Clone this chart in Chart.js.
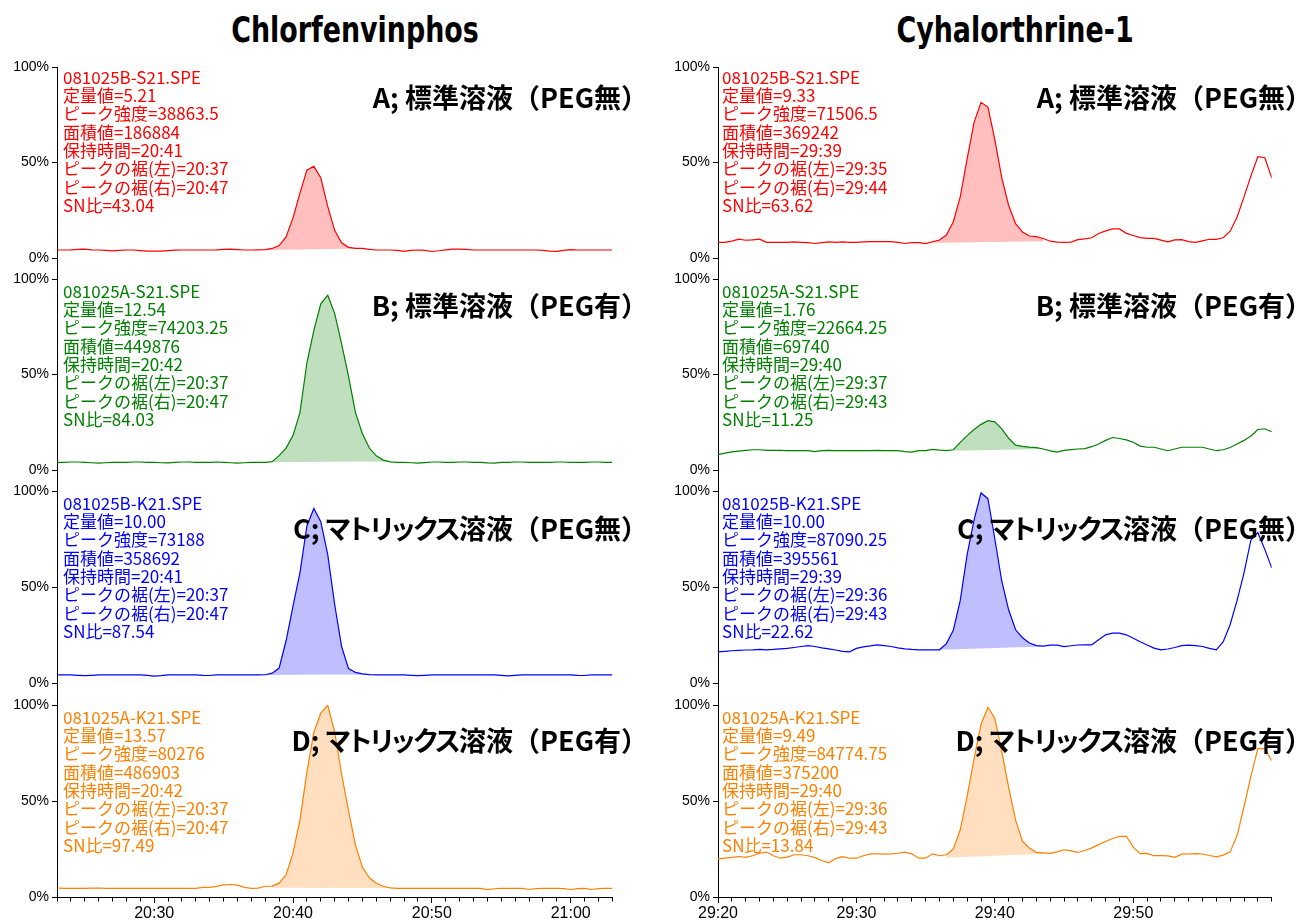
<!DOCTYPE html>
<html>
<head>
<meta charset="utf-8">
<script src="https://cdn.jsdelivr.net/npm/chart.js@4.4.1/dist/chart.umd.min.js"></script>
<style>
  body { margin: 0; background: #fff; }
  #page { position: relative; width: 1308px; height: 924px; overflow: hidden; background: #fff; }
  canvas { position: absolute; }
  .title { position: absolute; top: 12px; font: bold 36px "DejaVu Sans Condensed", "DejaVu Sans", sans-serif;
           line-height: 36px; white-space: nowrap; transform: translateX(-50%) scaleX(0.83); color: #000; }
  .plabel { position: absolute; font: bold 27px "Noto Sans CJK JP", sans-serif; line-height: 28px;
            white-space: nowrap; color: #000; z-index: 2; }
  .plabel .kana { font-feature-settings: "palt"; letter-spacing: -1.5px; }
  .note { position: absolute; font: 17px "Noto Sans CJK JP", sans-serif; line-height: 18.3px;
          white-space: pre; z-index: 2; }
</style>
</head>
<body>
<div id="page"></div>
<script>
// retention time offsets in seconds from the left edge of each column
const offsets = [
  0, 0.5, 1, 1.5, 2, 2.5, 3, 3.5, 4, 4.5, 5, 5.5, 6, 6.5, 7, 7.5, 8, 8.5, 9, 9.5,
  10, 10.5, 11, 11.5, 12, 12.5, 13, 13.5, 14, 14.5, 15, 15.5, 16, 16.5, 17, 17.5, 18, 18.5, 19, 19.5,
  20, 20.5, 21, 21.5, 22, 22.5, 23, 23.5, 24, 24.5, 25, 25.5, 26, 26.5, 27, 27.5, 28, 28.5, 29, 29.5,
  30, 30.5, 31, 31.5, 32, 32.5, 33, 33.5, 34, 34.5, 35, 35.5, 36, 36.5, 37, 37.5, 38, 38.5, 39, 39.5, 40
];

// Chlorfenvinphos (starts 20:23)
const chlorA = [
  4.2, 4.2, 4.3, 4.5, 4.6, 4.3, 4.2, 4.0, 3.7, 4.0,
  4.2, 4.2, 3.9, 3.6, 3.6, 3.6, 3.9, 4.1, 4.2, 4.2,
  4.2, 4.2, 4.2, 4.3, 4.5, 4.6, 4.4, 4.2, 4.2, 4.3,
  4.4, 5.0, 6.5, 11, 21, 34, 46, 48, 42, 27,
  14.5, 8, 5.6, 5.0, 5.0, 4.5, 4.2, 4.2, 4.2, 4.0,
  3.5, 4.0, 4.2, 4.0, 3.4, 3.8, 4.3, 4.6, 4.6, 4.5,
  4.2, 4.2, 4.2, 4.2, 4.2, 4.2, 4.2, 4.2, 4.2, 4.2,
  4.0, 3.6, 3.5, 4.0, 4.4, 4.2, 4.2, 4.2, 4.2, 4.2,
  4.2
];
const chlorB = [
  4.0, 4.0, 4.2, 4.2, 4.0, 3.8, 3.6, 3.8, 4.0, 4.0,
  4.0, 4.2, 4.2, 4.0, 4.0, 3.8, 3.7, 4.0, 4.2, 4.2,
  4.0, 4.0, 4.0, 4.2, 4.0, 3.8, 3.6, 3.8, 4.0, 4.0,
  4.0, 4.4, 7.5, 11.5, 18, 30, 56, 73, 87, 91.5,
  82, 66, 49, 30, 19, 11.5, 7.4, 5.2, 4.3, 4.0,
  4.0, 3.8, 3.6, 3.9, 4.2, 4.2, 4.0, 4.0, 4.2, 4.2,
  4.0, 4.0, 3.7, 3.6, 4.0, 4.0, 4.2, 4.2, 4.0, 4.0,
  4.0, 4.0, 4.2, 4.2, 4.0, 4.0, 4.0, 4.2, 4.2, 4.0,
  4.0
];
const chlorC = [
  4.2, 4.2, 4.2, 4.0, 3.8, 4.0, 4.2, 4.2, 4.2, 4.2,
  4.2, 4.2, 4.2, 4.0, 3.6, 3.8, 4.2, 4.2, 4.2, 4.2,
  4.2, 4.0, 3.9, 4.2, 4.2, 4.2, 4.2, 4.2, 4.2, 4.2,
  4.3, 5.1, 7.8, 22, 40, 57.4, 81.8, 90.9, 84, 67,
  41, 19, 7.5, 5.5, 4.8, 4.4, 4.2, 4.2, 4.2, 4.2,
  4.2, 4.0, 3.8, 4.0, 4.2, 4.2, 4.2, 4.2, 4.2, 4.2,
  4.2, 4.2, 4.2, 4.2, 4.0, 3.7, 4.0, 4.2, 4.2, 4.2,
  4.2, 4.2, 4.2, 4.2, 4.2, 4.0, 3.9, 4.2, 4.2, 4.2,
  4.2
];
const chlorD = [
  4.7, 4.5, 4.5, 4.5, 4.5, 4.6, 4.7, 4.5, 4.5, 4.5,
  4.5, 4.5, 4.5, 4.5, 4.5, 4.5, 4.5, 4.5, 4.5, 4.5,
  4.5, 5.0, 5.0, 5.5, 6.3, 6.5, 6.2, 5.0, 4.5, 4.6,
  5.6, 5.7, 7.2, 11.5, 23, 40, 65, 85.7, 95.8, 100,
  86, 64, 44.8, 27, 15.5, 10, 7.2, 5.6, 4.8, 4.5,
  4.5, 4.5, 4.5, 4.5, 4.5, 4.5, 4.5, 4.5, 4.5, 4.5,
  4.5, 4.5, 3.8, 4.3, 4.5, 4.5, 4.5, 4.5, 3.9, 4.4,
  4.5, 4.5, 4.5, 4.4, 3.9, 4.4, 4.5, 3.9, 4.4, 4.5,
  4.5
];

// Cyhalorthrine-1 (starts 29:20)
const cyhaA = [
  8.2, 8.2, 8.8, 9.9, 9.3, 9.5, 9.9, 8.2, 8.2, 8.2,
  8.2, 8.4, 8.2, 8.0, 7.6, 8.0, 8.4, 8.2, 8.4, 8.2,
  8.2, 8.4, 8.6, 8.6, 8.6, 8.6, 8.2, 7.6, 8.0, 8.0,
  7.5, 8.5, 9.4, 12, 19, 32, 52, 71, 81.5, 79,
  62, 42, 27.5, 18, 13.6, 11.5, 11.2, 10.2, 8.8, 8.3,
  8.2, 8.3, 9.6, 10.0, 10.6, 12.8, 14.2, 15.2, 15.2, 12.9,
  11.8, 10.7, 10.3, 10.3, 9.4, 8.5, 9.5, 9.6, 8.6, 8.2,
  9.0, 9.8, 9.8, 10.6, 14, 21.5, 32, 43, 53, 52.5,
  42
];
const cyhaB = [
  8.0, 8.8, 9.5, 9.9, 10.3, 10.6, 10.6, 10.3, 10.3, 10.3,
  10.1, 10.1, 10.1, 10.1, 9.6, 10.1, 10.3, 10.1, 10.1, 10.1,
  10.1, 10.1, 10.1, 10.3, 10.1, 10.1, 10.1, 9.6, 9.4, 10.1,
  10.1, 10.8, 10.4, 10.1, 10.6, 14.5, 18, 21.2, 23.9, 25.8,
  25.2, 21.5, 16.6, 13, 12.4, 12, 11.7, 11, 10, 9.4,
  10.3, 10.7, 11, 11.2, 12.2, 13.6, 15.5, 17, 16.5, 15.8,
  14.5, 12.5, 11.9, 11.9, 11, 10.1, 11, 11.9, 11.9, 11.9,
  11.9, 11, 10.1, 10.6, 11.8, 13.6, 15.5, 17.8, 21.2, 21.6,
  20
];
const cyhaC = [
  16.2, 16.5, 16.8, 17, 17.2, 17.3, 17.5, 17.3, 17.5, 17.8,
  18, 18.5, 19, 19.5, 19, 18.3, 17.8, 17.2, 16.5, 16.2,
  18, 18.8, 19.3, 19.9, 19.5, 19, 18.3, 17.8, 17.5, 17.3,
  17.3, 17.3, 17.3, 20.5, 27.5, 43, 67, 85, 99, 96,
  75, 53, 38, 27.7, 23.6, 20.8, 19.5, 19.2, 19.7, 19.7,
  19, 19.4, 19.8, 19.9, 19.9, 22.5, 25.1, 26, 26, 25.1,
  23.3, 21.5, 19.8, 18.2, 17.3, 17.7, 18.5, 19.5, 19.7, 19.5,
  19, 18, 17.3, 21.5, 30.5, 43, 57.4, 74.5, 78.3, 69.6,
  60
];
const cyhaD = [
  19.9, 20.2, 20.6, 21.1, 20.6, 21.5, 22.8, 23.4, 21.5, 20.2,
  20.8, 22, 22, 21.5, 20.5, 19, 17.8, 20, 21, 20.2,
  20.2, 21.5, 22.5, 22.5, 22.3, 22.5, 22.8, 23.4, 22.5, 20.2,
  20.2, 22.5, 21.5, 22, 25, 35, 52.5, 72, 90, 98.8,
  93, 75.8, 57, 40, 29, 25.5, 23.2, 23, 22.7, 23.5,
  24.6, 24, 23.2, 24.2, 25.6, 27.3, 28.9, 30.5, 31.6, 31.6,
  26, 22.6, 22.7, 21.5, 21.5, 21.4, 20.7, 22.3, 22.4, 22.6,
  22.4, 21.6, 20.9, 21.8, 23.5, 32, 47, 63, 77.3, 77.3,
  71
];

// integrated peak: [left foot, right foot] times and baseline heights
const chlorFeet = [[15, 22], [15.5, 24], [15, 22.5], [15.5, 24]];
const chlorBase = [[4.2, 5.0], [4.0, 4.6], [4.2, 4.6], [4.8, 5.0]];
const cyhaFeet = [[15, 23.5], [17, 23.5], [16, 23.5], [16.5, 23.5]];
const cyhaBase = [[7.8, 8.8], [10.1, 11.0], [17.3, 19.0], [20.5, 22.5]];

// axis ticks
const yTickValues = [0, 50, 100];
const chlorMajor = { 7: '20:30', 17: '20:40', 27: '20:50', 37: '21:00' };
const cyhaMajor = { 0: '29:20', 10: '29:30', 20: '29:40', 30: '29:50' };

const panelNames = ['A; 標準溶液（PEG無）', 'B; 標準溶液（PEG有）', 'C; マトリックス溶液（PEG無）', 'D; マトリックス溶液（PEG有）'];
const colors = ['#ff0000', '#008000', '#0000ff', '#ff8000'];
const fills = ['rgba(255,0,0,0.25)', 'rgba(0,128,0,0.25)', 'rgba(0,0,255,0.25)', 'rgba(255,128,0,0.25)'];

const chlorNotes = [
  ['081025B-S21.SPE', '定量値=5.21', 'ピーク強度=38863.5', '面積値=186884', '保持時間=20:41', 'ピークの裾(左)=20:37', 'ピークの裾(右)=20:47', 'SN比=43.04'],
  ['081025A-S21.SPE', '定量値=12.54', 'ピーク強度=74203.25', '面積値=449876', '保持時間=20:42', 'ピークの裾(左)=20:37', 'ピークの裾(右)=20:47', 'SN比=84.03'],
  ['081025B-K21.SPE', '定量値=10.00', 'ピーク強度=73188', '面積値=358692', '保持時間=20:41', 'ピークの裾(左)=20:37', 'ピークの裾(右)=20:47', 'SN比=87.54'],
  ['081025A-K21.SPE', '定量値=13.57', 'ピーク強度=80276', '面積値=486903', '保持時間=20:42', 'ピークの裾(左)=20:37', 'ピークの裾(右)=20:47', 'SN比=97.49']
];
const cyhaNotes = [
  ['081025B-S21.SPE', '定量値=9.33', 'ピーク強度=71506.5', '面積値=369242', '保持時間=29:39', 'ピークの裾(左)=29:35', 'ピークの裾(右)=29:44', 'SN比=63.62'],
  ['081025A-S21.SPE', '定量値=1.76', 'ピーク強度=22664.25', '面積値=69740', '保持時間=29:40', 'ピークの裾(左)=29:37', 'ピークの裾(右)=29:43', 'SN比=11.25'],
  ['081025B-K21.SPE', '定量値=10.00', 'ピーク強度=87090.25', '面積値=395561', '保持時間=29:39', 'ピークの裾(左)=29:36', 'ピークの裾(右)=29:43', 'SN比=22.62'],
  ['081025A-K21.SPE', '定量値=9.49', 'ピーク強度=84774.75', '面積値=375200', '保持時間=29:40', 'ピークの裾(左)=29:36', 'ピークの裾(右)=29:43', 'SN比=13.84']
];

// page layout (px)
const top100 = [67, 279, 491, 705];   // where 100% sits in each row
const zero = [258, 470, 683, 897];    // where 0% sits in each row
const labelMid = [97, 305, 528, 740];
const noteMid = [77, 291, 503, 717];

const columns = [
  { title: 'Chlorfenvinphos', titleX: 355, left: 0, width: 640, axisW: 57, padRight: 27.7, noteX: 63, labelRight: 648,
    major: chlorMajor, series: [chlorA, chlorB, chlorC, chlorD], feet: chlorFeet, base: chlorBase, notes: chlorNotes },
  { title: 'Cyhalorthrine-1', titleX: 1015, left: 660, width: 648, axisW: 58, padRight: 36.3, noteX: 722, labelRight: 1312,
    major: cyhaMajor, series: [cyhaA, cyhaB, cyhaC, cyhaD], feet: cyhaFeet, base: cyhaBase, notes: cyhaNotes }
];

Chart.defaults.font.family = '"Liberation Sans", Arial, sans-serif';
Chart.defaults.color = '#000';

const page = document.getElementById('page');

function makePanel(col, row) {
  const vals = col.series[row];
  const [t0, t1] = col.feet[row];
  const [b0, b1] = col.base[row];
  const showX = row === 3;
  const top = top100[row] - 10;
  const bottom = showX ? 924 : top100[row + 1];
  const yMin = showX ? 0 : -(top100[row + 1] - zero[row]) / (zero[row] - top100[row]) * 100;

  const canvas = document.createElement('canvas');
  canvas.width = col.width;
  canvas.height = bottom - top;
  canvas.style.left = col.left + 'px';
  canvas.style.top = top + 'px';
  canvas.style.width = col.width + 'px';
  canvas.style.height = (bottom - top) + 'px';
  page.appendChild(canvas);

  const line = offsets.map((t, i) => ({ x: t, y: vals[i] }));
  const peak = line.filter(p => p.x >= t0 && p.x <= t1);

  new Chart(canvas.getContext('2d'), {
    type: 'line',
    data: {
      datasets: [
        { data: [{ x: t0, y: b0 }, { x: t1, y: b1 }], borderColor: 'rgba(0,0,0,0)', borderWidth: 0, pointRadius: 0, fill: false },
        { data: peak, borderColor: 'rgba(0,0,0,0)', borderWidth: 0, pointRadius: 0, backgroundColor: fills[row], fill: '-1' },
        { data: line, borderColor: colors[row], borderWidth: 1.2, pointRadius: 0, fill: false, tension: 0 }
      ]
    },
    options: {
      responsive: false,
      maintainAspectRatio: false,
      animation: false,
      events: [],
      layout: { padding: { top: 10, right: col.padRight, left: 0, bottom: 0 } },
      plugins: { legend: { display: false }, tooltip: { enabled: false } },
      scales: {
        x: {
          type: 'linear', min: 0, max: 40, display: showX, position: 'bottom',
          afterBuildTicks: s => {
            const ticks = [];
            for (let v = 0; v <= 40; v++) ticks.push({ value: v });
            s.ticks = ticks;
          },
          afterFit: s => {
            if (showX) s.height = 27;
            s.paddingLeft = 0;
            s.paddingRight = 0;
          },
          ticks: {
            autoSkip: false, maxRotation: 0, padding: 1, color: '#000',
            font: { size: 16 },
            callback: v => col.major[v] || ''
          },
          grid: {
            drawOnChartArea: false, tickLength: 6, color: '#000',
            tickBorderDash: ctx => (ctx.tick && col.major[ctx.tick.value] !== undefined) ? [] : [3.5, 40]
          },
          border: { color: '#000', width: 1 }
        },
        y: {
          min: yMin, max: 100,
          afterBuildTicks: s => { s.ticks = yTickValues.map(v => ({ value: v })); },
          afterFit: s => {
            s.width = col.axisW;
            // let the axis run to the panel edges; labels may overhang
            s.paddingTop = 0;
            s.paddingBottom = 0;
          },
          ticks: { padding: 3, color: '#000', font: { size: 14 }, callback: v => v + '%' },
          grid: { drawOnChartArea: false, tickLength: 5, color: '#000' },
          border: { color: '#000', width: 1 }
        }
      }
    }
  });

  // katakana runs get proportional widths, the rest stays full width
  const label = document.createElement('div');
  label.className = 'plabel';
  panelNames[row].split(/([ァ-ヶー]+)/).forEach((part, i) => {
    if (!part) return;
    const span = document.createElement('span');
    if (i % 2 === 1) span.className = 'kana';
    span.textContent = part;
    label.appendChild(span);
  });
  label.style.right = (1308 - col.labelRight) + 'px';
  label.style.top = (labelMid[row] - 14) + 'px';
  page.appendChild(label);

  const note = document.createElement('div');
  note.className = 'note';
  note.style.color = colors[row];
  note.style.left = col.noteX + 'px';
  note.style.top = (noteMid[row] - 9.15) + 'px';
  note.textContent = col.notes[row].join('\n');
  page.appendChild(note);
}

columns.forEach(col => {
  const t = document.createElement('div');
  t.className = 'title';
  t.style.left = col.titleX + 'px';
  t.textContent = col.title;
  page.appendChild(t);
  for (let r = 0; r < 4; r++) makePanel(col, r);
});
</script>
</body>
</html>
